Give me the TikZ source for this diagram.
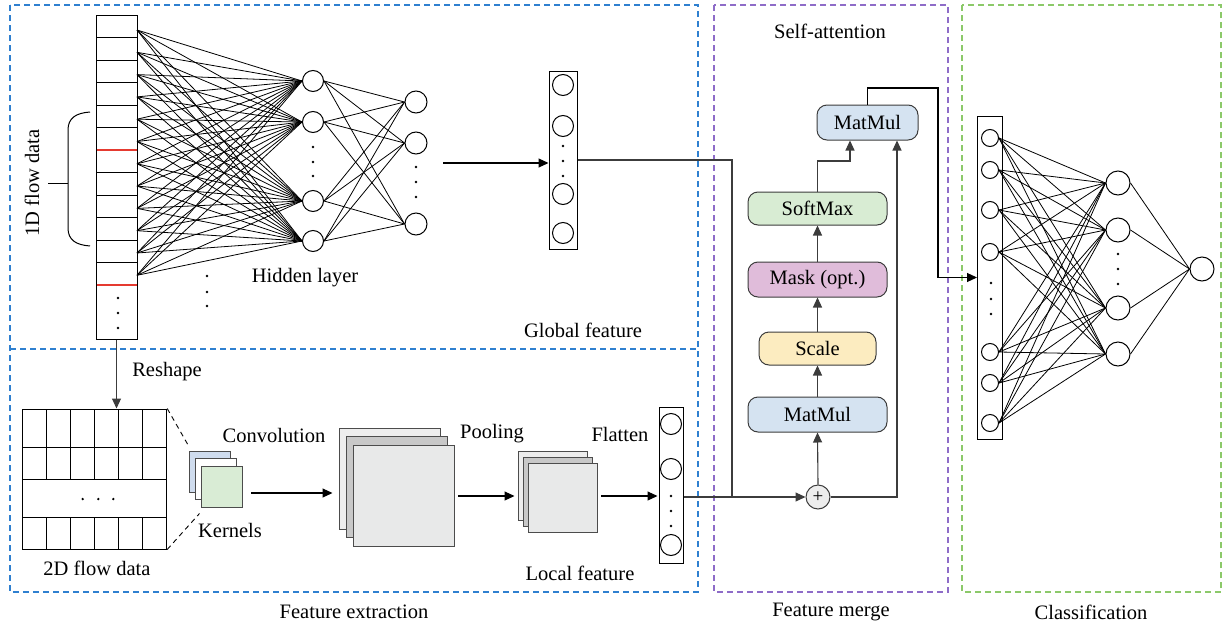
\documentclass[tikz,border=0pt]{standalone}
\usepackage{fontspec}
\setmainfont{Liberation Serif}
\usetikzlibrary{arrows.meta,calc}
\definecolor{dblue}{HTML}{2F80D0}
\definecolor{dpurple}{HTML}{8E6CC8}
\definecolor{dgreen}{HTML}{8CC96A}
\definecolor{mmblue}{HTML}{D5E3F1}
\definecolor{smgreen}{HTML}{D8ECD3}
\definecolor{mkpink}{HTML}{E0BCDA}
\definecolor{scyel}{HTML}{FCECC0}
\definecolor{kblue}{HTML}{CFDCEE}
\definecolor{kgreen}{HTML}{D9ECD5}
\definecolor{lgrey}{HTML}{EDEDED}
\definecolor{mgrey}{HTML}{C8C8C8}
\definecolor{fgrey}{HTML}{E8E9E9}
\definecolor{lred}{HTML}{E53A30}
\definecolor{lgray}{HTML}{3C3C3C}
\tikzset{
  region/.style={dash pattern=on 6pt off 4pt, line width=1.1pt},
  net/.style={line width=0.8pt, black},
  neuron/.style={circle, draw, line width=1pt, fill=white, inner sep=0pt, minimum size=#1},
  neuron/.default=21,
  barbox/.style={draw, line width=1pt, inner sep=0pt},
  abox/.style={draw=lgray, line width=1pt, rounded corners=10pt, inner sep=0pt, minimum width=139pt, minimum height=34pt},
  conn/.style={draw=lgray, line width=1.1pt, -{Triangle[length=10pt,width=9pt]}},
  plainconn/.style={draw=lgray, line width=1.1pt},
  arr/.style={line width=1.1pt, -{Triangle[length=10pt,width=9pt]}},
  sq/.style={draw=black!70, line width=1pt, inner sep=0pt, minimum size=#1},
  dotm/.style={circle, fill=black, inner sep=0pt, minimum size=2.6pt},
  lbl/.style={inner sep=0pt},
}
\begin{document}
\begin{tikzpicture}[x=1pt,y=-1pt, font=\fontsize{20.5}{24}\selectfont]
\useasboundingbox (0,0) rectangle (1226,629);
% regions
\draw[region, dblue] (10,5) rectangle (698,592);
\draw[region, dblue] (10,349) -- (698,349);
\draw[region, dpurple] (714,5) rectangle (948,592);
\draw[region, dgreen] (962,5) rectangle (1221,592);

% ---------- 1D flow data ----------
\node[barbox, minimum width=41pt, minimum height=324pt] (bar) at (116.5,177) {};
\foreach \yy in {37.5,60,82.5,105,127.5,172.5,195,217.5,240,262.5}
  \draw[line width=1pt] (96,\yy) -- (137,\yy);
\draw[lred, line width=1.3pt] (96.5,150) -- (136.5,150);
\draw[lred, line width=1.3pt] (96.5,285) -- (136.5,285);
\foreach \y [count=\i] in {298,313,328} \node[dotm] (bd\i) at (118,\y) {};
\node[lbl, rotate=90] (l1d) at (32,183) {1D flow data};
\draw[line width=1pt] (90,112) .. controls (76,113) and (68,118) .. (68,130) -- (68,228) .. controls (68,240) and (76,245) .. (90,246);
\draw[line width=1pt] (48,183) -- (68,183);

% hidden layers
\foreach \y [count=\i] in {81,122,201,241} \node[neuron] (h\i) at (313,\y) {};
\foreach \y [count=\i] in {102,143,224} \node[neuron=22] (k\i) at (416,\y) {};
\foreach \k in {0,...,11} {
  \coordinate (o\k) at (137,{30+22.3*\k});
  \foreach \h in {1,...,4} \draw[net] (o\k) -- (h\h.west);
}
\foreach \a in {1,...,4} \foreach \b in {1,...,3} \draw[net] (h\a.east) -- (k\b.west);
\foreach \y [count=\i] in {147,162,176} \node[dotm] (hd\i) at (313,\y) {};
\foreach \y [count=\i] in {167,182,197} \node[dotm] (kd\i) at (416,\y) {};
\foreach \y [count=\i] in {276,292,306} \node[dotm] (ld\i) at (207,\y) {};
\node[lbl] (thid) at (305,278) {Hidden layer};

% global feature
\node[barbox, minimum width=28pt, minimum height=178pt] (gbar) at (563,160) {};
\foreach \y [count=\i] in {85,126,194,233} \node[neuron] (g\i) at (563,\y) {};
\foreach \y [count=\i] in {146,161,176} \node[dotm] (gd\i) at (563,\y) {};
\coordinate (a1) at (443,163);
\draw[arr] (a1) -- (a1 -| gbar.west);
\node[lbl] (tglob) at (583,330) {Global feature};

% ---------- 2D flow data ----------
\node[lbl] (tresh) at (167,372) {Reshape};
\node[barbox, minimum width=144pt, minimum height=140pt] (grid) at (94.7,479) {};
\draw[arr, lgray] (bar.south) -- (bar.south |- grid.north);
\foreach \y in {447,479,517} \draw[line width=1pt] (22.7,\y) -- (166.7,\y);
\foreach \x in {46.7,70.7,94.7,118.7,142.7} {
  \draw[line width=1pt] (\x,409) -- (\x,479);
  \draw[line width=1pt] (\x,517) -- (\x,549);
}
\foreach \x [count=\i] in {82.7,98.3,113.3} \node[dotm] (gdd\i) at (\x,499) {};
\node[lbl] (t2d) at (97,568) {2D flow data};

% kernels
\node[sq=41pt, fill=kblue] (kn1) at (209.5,471.5) {};
\node[sq=41pt, fill=white] (kn2) at (215.5,478.5) {};
\node[sq=41pt, fill=kgreen] (kn3) at (221.5,486.5) {};
\draw[line width=0.9pt, dash pattern=on 5pt off 4pt] (grid.north east) -- ($(kn1.north west)+(1,-3)$);
\draw[line width=0.9pt, dash pattern=on 5pt off 4pt] (grid.south east) -- ($(kn3.south west)+(-1,6)$);
\node[lbl] (tconv) at (274,435) {Convolution};
\node[lbl] (tkern) at (230,530) {Kernels};

% conv maps
\node[sq=101pt, fill=lgrey] (cv1) at (389.5,479) {};
\node[sq=101pt, fill=mgrey] (cv2) at (396.5,486.5) {};
\node[sq=101pt, fill=fgrey] (cv3) at (403.5,496) {};
\coordinate (a2) at (251,493);
\draw[arr] (a2) -- ($(a2 -| cv1.west)+(-6,0)$);

% pooling maps
\node[sq=69pt, fill=lgrey] (pl1) at (552.5,485.5) {};
\node[sq=69pt, fill=mgrey] (pl2) at (557.5,491.5) {};
\node[sq=69pt, fill=fgrey] (pl3) at (562.5,497.5) {};
\coordinate (a3) at (458,496);
\draw[arr] (a3) -- ($(a3 -| pl1.west)+(-3,0)$);
\node[lbl] (tpool) at (492,434) {Pooling};

% local feature
\node[barbox, minimum width=24pt, minimum height=156pt] (lbar) at (671,485) {};
\foreach \y [count=\i] in {424,469,545} \node[neuron] (lc\i) at (671,\y) {};
\foreach \y [count=\i] in {496,511,526} \node[dotm] (lcd\i) at (671,\y) {};
\coordinate (a4) at (601,496);
\draw[arr] (a4) -- ($(a4 -| lbar.west)+(-1,0)$);
\node[lbl] (tflat) at (620,434) {Flatten};
\node[lbl] (tloc) at (580,573) {Local feature};

% ---------- Self-attention ----------
\node[lbl] (tsa) at (830,31) {Self-attention};
\node[abox, fill=mmblue, minimum width=101pt, minimum height=35pt] (mm2) at (867.5,122.5) {MatMul};
\node[abox, fill=smgreen, minimum height=33pt] (sm) at (817.5,208.5) {SoftMax};
\node[abox, fill=mkpink, minimum height=35pt] (mk) at (817.5,279.5) {Mask (opt.)};
\node[abox, fill=scyel, minimum width=117pt, minimum height=33pt] (sc) at (817.5,348.5) {Scale};
\node[abox, fill=mmblue, minimum height=35pt] (mm1) at (817.5,414.5) {MatMul};
\node[circle, draw=lgray, line width=1pt, fill=lgrey, minimum size=24pt, inner sep=0pt, font=\fontsize{19}{20}\selectfont] (plus) at (818,497) {+};

\coordinate (jn) at (732,497);
\draw[plainconn] (lbar.east |- plus.west) -- (jn);
\draw[conn] (gbar.east) -| (jn) -- (plus.west);
\draw[conn] (plus.north) -- (mm1.south);
\draw[conn] (mm1.north) -- (sc.south);
\draw[conn] (sc.north) -- (mk.south);
\draw[conn] (mk.north) -- (sm.south);
\coordinate (c1) at (850,161);
\draw[conn] (sm.north) |- (c1) -- (c1 |- mm2.south);
\coordinate (c2) at (897,0);
\draw[conn] (plus.east) -| (c2 |- mm2.south);

% ---------- Classification ----------
\node[barbox, minimum width=25pt, minimum height=323pt] (cbar) at (990,277.5) {};
\foreach \y [count=\i] in {138,170,210,252,352,383,423} \node[neuron=17] (ci\i) at (990,\y) {};
\foreach \y [count=\i] in {183,230,308,354} \node[neuron=24] (ch\i) at (1118,\y) {};
\node[neuron=24] (co) at (1202,269) {};
\foreach \a in {1,...,7} \foreach \b in {1,...,4} \draw[net] (ci\a.east) -- (ch\b.west);
\foreach \b in {1,...,4} \draw[net] (ch\b.east) -- (co.west);
\foreach \y [count=\i] in {283,299,314} \node[dotm] (cd\i) at (991,\y) {};
\foreach \y [count=\i] in {254,269,284} \node[dotm] (chd\i) at (1118,\y) {};
\coordinate (c3) at (938,88);
\draw[conn, draw=black] (mm2.north) |- (c3) |- (cbar.west);

% bottom labels
\node[lbl] (tfe) at (354,612) {Feature extraction};
\node[lbl] (tfm) at (831,612) {Feature merge};
\node[lbl] (tcl) at (1091,612) {Classification};
\end{tikzpicture}
\end{document}
